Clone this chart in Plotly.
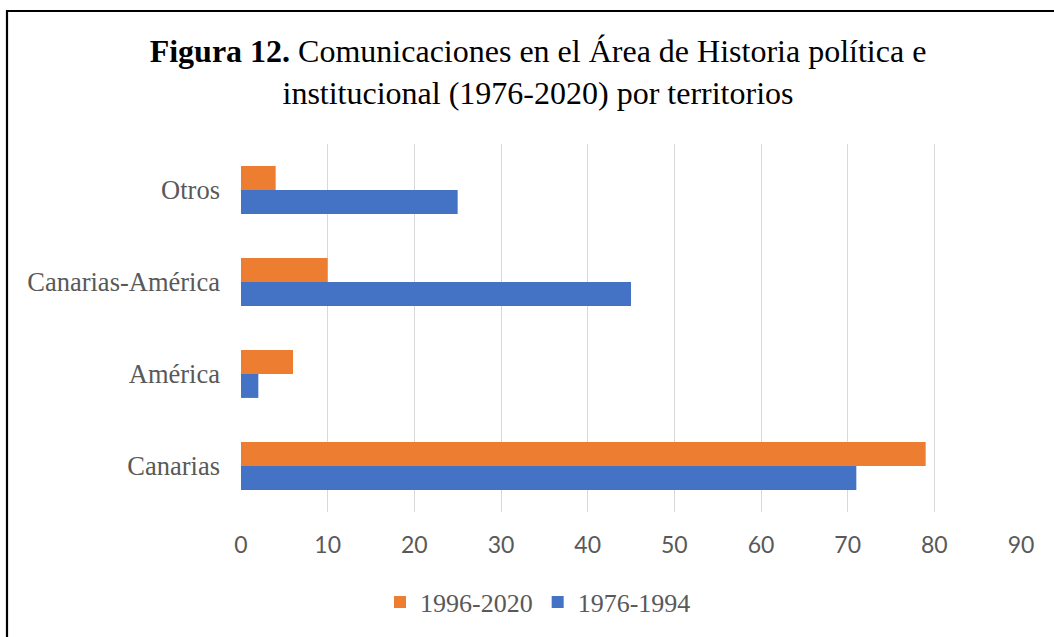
import plotly.graph_objects as go

# ---------------------------------------------------------------------------
# Data
# ---------------------------------------------------------------------------
territorios = ["Canarias", "América", "Canarias-América", "Otros"]
serie_1976_1994 = [71, 2, 45, 25]
serie_1996_2020 = [79, 6, 10, 4]
x_ticks = [0, 10, 20, 30, 40, 50, 60, 70, 80, 90]

ORANGE = "#ED7D31"
BLUE = "#4472C4"
GREY_TXT = "#595959"
SERIF = "Liberation Serif, Times New Roman, serif"

W, H = 1054, 637
L, R, T, B = 241, 33, 144, 125
PW, PH = W - L - R, H - T - B

fig = go.Figure()
# first trace sits lowest in each group -> blue below orange
fig.add_trace(go.Bar(y=territorios, x=serie_1976_1994, name="1976-1994", orientation="h",
                     marker=dict(color=BLUE, line=dict(width=0)), legendrank=2))
fig.add_trace(go.Bar(y=territorios, x=serie_1996_2020, name="1996-2020", orientation="h",
                     marker=dict(color=ORANGE, line=dict(width=0)), legendrank=1))

fig.update_layout(
    width=W, height=H,
    margin=dict(l=L, r=R, t=T, b=B),
    paper_bgcolor="white", plot_bgcolor="white",
    barmode="group", bargap=0.48, bargroupgap=0,
    title=dict(
        text="<b>Figura 12.</b> Comunicaciones en el Área de Historia política e<br>"
             "institucional (1976-2020) por territorios",
        font=dict(family=SERIF, size=32, color="black"),
        x=538 / W, xanchor="center", y=1 - 62 / H, yanchor="middle",
    ),
    legend=dict(
        orientation="h", x=538 / W, xanchor="center", xref="container",
        y=1 - 602 / H, yanchor="middle", yref="container",
        font=dict(family=SERIF, size=26, color=GREY_TXT),
        itemwidth=30, traceorder="normal",
    ),
    showlegend=True,
)

fig.update_xaxes(
    range=[0, 90], tickvals=x_ticks, showgrid=True, gridcolor="#D9D9D9", gridwidth=1.3,
    zeroline=False, showline=False, ticks="",
    tickfont=dict(family="Lato, Calibri, sans-serif", size=23, color=GREY_TXT),
    ticklabelstandoff=17,
)
fig.update_yaxes(
    showgrid=False, zeroline=False, showline=False, ticks="",
    tickfont=dict(family=SERIF, size=26.5, color=GREY_TXT),
    ticklabelstandoff=20,
)

# outer frame (Word-style border)
fig.add_shape(type="rect", xref="paper", yref="paper",
              x0=(7 - L) / PW, x1=(W + 10 - L) / PW,
              y0=1 + (T - 11) / PH, y1=-(H + 10 - (T + PH)) / PH,
              line=dict(color="black", width=2.2), fillcolor="rgba(0,0,0,0)", layer="above")

fig.write_html("out.html", config={"displayModeBar": False},
               post_script="document.body.style.margin='0';")
